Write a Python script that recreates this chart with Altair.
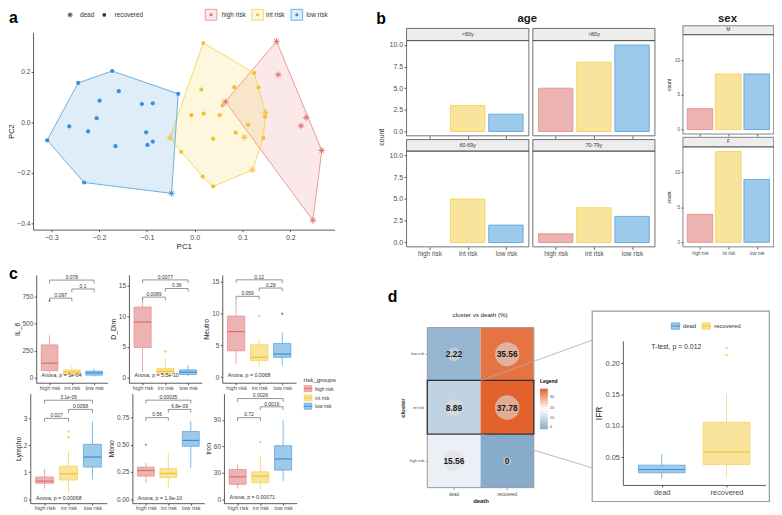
import altair as alt
import pandas as pd

M = 8
W, H = 774, 507
FONT = "Liberation Sans"
BASE = pd.DataFrame({"k": [0]})

RISK = ["high risk", "int risk", "low risk"]
LINE = ["#E8908D", "#F5D554", "#5DA7DF"]
FILL = ["#EBB4B2", "#F8E49C", "#9DC9EB"]
DARK = ["#E26C69", "#F0C22C", "#3A8FD7"]
ASTER = "M-1,0L1,0M0,-1L0,1M-0.7,-0.7L0.7,0.7M-0.7,0.7L0.7,-0.7"

# ---------------- panel a data (PCA) ----------------
LOW_PC1 = [-0.3085, -0.2436, -0.1725, -0.0345, -0.0483, -0.2312, -0.2623, -0.1988, -0.1587,
           -0.1104, -0.0876, -0.2050, -0.2229, -0.1014, -0.1656, -0.0987, -0.0876]
LOW_PC2 = [-0.0706, 0.1569, 0.2039, 0.1137, -0.2810, -0.2379, -0.0157, 0.0863, 0.1242,
           0.0732, 0.0758, 0.0170, -0.0353, -0.0392, -0.0941, -0.0889, -0.0758]
LOW_DEAD = [0, 0, 0, 0, 1, 0, 0, 0, 0, 0, 0, 0, 0, 0, 0, 0, 0]
INT_PC1 = [0.0179, 0.1242, 0.1332, 0.0828, 0.0138, 0.0587, 0.1484, 0.1470, -0.0069, 0.0186,
           0.0524, 0.1118, -0.0518, 0.0386, 0.0856, 0.1035, 0.1435, -0.0283, 0.1208, 0.0166, 0.0386]
INT_PC2 = [0.3150, 0.1961, 0.1386, 0.1399, 0.1307, 0.0680, 0.0392, 0.0235, 0.0288, 0.0353,
           0.0288, -0.0092, -0.0614, -0.0641, -0.0405, -0.0588, -0.0614, -0.1163, -0.1882, -0.2144, -0.2536]
INT_DEAD = [0, 0, 0, 0, 0, 0, 1, 0, 0, 0, 0, 0, 1, 0, 0, 1, 0, 0, 1, 0, 0]
HIGH_PC1 = [0.1712, 0.1746, 0.0642, 0.2333, 0.2222, 0.2657, 0.2471]
HIGH_PC2 = [0.3216, 0.1895, 0.0824, 0.0196, -0.0131, -0.1111, -0.3882]
HIGH_DEAD = [1, 1, 1, 1, 1, 1, 1]

# ---------------- panel b data (counts) ----------------
AGE_FACETS = ["<60y", ">80y", "60-69y", "70-79y"]
AGE_COUNTS = [[0, 3, 2], [5, 8, 10], [0, 5, 2], [1, 4, 3]]
SEX_FACETS = ["M", "F"]
SEX_COUNTS = [[3, 8, 8], [4, 13, 9]]

# ---------------- panel c data (box stats: lo, q1, med, q3, hi) ----------------
C_NAMES = ["IL_6", "D_Dim", "Neutro", "Lympho", "Mono", "Iron"]
C_STATS = [
    [[40, 66, 134, 303, 391], [15, 30, 52, 73, 112], [10, 24, 45, 61, 85]],
    [[0.9, 4.93, 9.06, 11.5, 13.0], [0.27, 0.64, 1.07, 1.5, 3.2], [0.27, 0.53, 0.91, 1.29, 2.09]],
    [[2.07, 4.13, 7.14, 9.57, 12.16], [1.55, 2.58, 3.1, 5.06, 5.95], [1.81, 3.1, 3.62, 5.28, 6.99]],
    [[0.39, 0.59, 0.67, 0.82, 1.12], [0.24, 0.71, 0.94, 1.22, 1.77], [0.73, 1.19, 1.56, 2.03, 2.87]],
    [[0.152, 0.212, 0.263, 0.294, 0.333], [0.097, 0.197, 0.236, 0.281, 0.424], [0.288, 0.485, 0.539, 0.621, 0.72]],
    [[12, 16.9, 25.5, 33.8, 39.4], [11.2, 18.8, 26.3, 31.2, 50], [20.6, 33.1, 45.8, 60.8, 90]],
]
C_OUTLIERS = [
    [("high risk", 709)],
    [("int risk", 4.3)],
    [("int risk", 9.57), ("low risk", 9.94)],
    [("int risk", 2.29), ("int risk", 2.5)],
    [("high risk", 0.50)],
    [("int risk", 64.9)],
]
C_BRACKETS = [
    [(1, 2, 734, "0.097"), (2, 3, 818, "0.1"), (1, 3, 900, "0.078")],
    [(1, 2, 13.1, "0.0089"), (2, 3, 14.5, "0.36"), (1, 3, 15.9, "0.0077")],
    [(1, 2, 12.67, "0.059"), (2, 3, 13.97, "0.29"), (1, 3, 15.26, "0.12")],
    [(1, 2, 2.99, "0.027"), (2, 3, 3.32, "0.0058"), (1, 3, 3.66, "3.1e-05")],
    [(1, 2, 0.748, "0.56"), (2, 3, 0.823, "6.8e-09"), (1, 3, 0.908, "0.00035")],
    [(1, 2, 92.7, "0.72"), (2, 3, 105, "0.0019"), (1, 3, 114.4, "0.0026")],
]
C_ANOVA = ["Anova, p = 1e-04", "Anova, p = 5.5e-10", "Anova, p = 0.0068",
           "Anova, p = 0.00068", "Anova, p = 1.9e-10", "Anova, p = 0.00071"]
C_ANOVA_Y = [30, 0.5, 0.3, 0.06, 0.01, 2.5]
C_TICKS = [[0, 250, 500, 750], [0, 5, 10, 15], [0, 5, 10, 15], [0, 1, 2, 3], [0, 0.25, 0.5, 0.75], [0, 30, 60, 90]]
C_FMT = ["d", "d", "d", "d", ".2f", "d"]

# ---------------- panel d data ----------------
HM_CLUSTER = ["low risk", "int risk", "high risk"]
HM_DEATH = ["dead", "recovered"]
HM_PCT = [[2.22, 35.56], [8.89, 37.78], [15.56, 0]]
D_CATS = ["dead", "recovered"]
D_STATS = [[0.0162, 0.0252, 0.0305, 0.0374, 0.0552], [0.0184, 0.0383, 0.0584, 0.1057, 0.150]]
D_OUTLIERS = [("recovered", 0.2131), ("recovered", 0.2247)]
D_FILL = ["#9DC9EB", "#F8E49C"]
D_LINE = ["#5DA7DF", "#F5D554"]
D_DARK = ["#3A8FD7", "#F0C22C"]


# ---------------- helpers ----------------
def lin(dom, r0, r1):
    return alt.Scale(domain=list(dom), range=[r0 - M, r1 - M], nice=False, zero=False)


def band(dom, r0, r1):
    return alt.Scale(type="band", domain=list(dom), range=[r0 - M, r1 - M], paddingInner=0, paddingOuter=0)


AXB = dict(grid=False, labelFont=FONT, titleFont=FONT, labelColor="#4D4D4D", titleColor="#1A1A1A",
           domainColor="#333333", tickColor="#333333", domainWidth=0.8, tickWidth=0.8,
           tickSize=2.5, labelPadding=1.5, labelFlush=False, labelOverlap=False,
           titleFontWeight="normal", labelAngle=0, titlePadding=3)


def ax(orient, at, values=None, fs=7, title=None, tfs=8, **kw):
    d = dict(AXB)
    d["orient"] = orient
    d["offset"] = -(at - M) if orient == "left" else (at - M) - H
    d["labelFontSize"] = fs
    d["titleFontSize"] = tfs
    d["title"] = title
    if values is not None:
        d["values"] = values
    d.update(kw)
    return alt.Axis(**d)


def cat_expr(cats):
    return "[" + ",".join("'" + c + "'" for c in cats) + "][datum.value - 1]"


def T(txt, x, y, fs=7, weight="normal", align="center", baseline="middle", angle=None, color="#1A1A1A"):
    kw = dict(text=txt, fontSize=fs, fontWeight=weight, align=align, baseline=baseline, color=color, font=FONT)
    if angle is not None:
        kw["angle"] = angle
    return alt.Chart(BASE).mark_text(**kw).encode(x=alt.value(x - M), y=alt.value(y - M))


def R(x0, y0, x1, y1, fill="transparent", stroke=None, sw=0.8, fo=1.0):
    kw = dict(fill=fill, fillOpacity=fo, strokeWidth=sw)
    if stroke:
        kw["stroke"] = stroke
    return alt.Chart(BASE).mark_rect(**kw).encode(
        x=alt.value(x0 - M), x2=alt.value(x1 - M), y=alt.value(y0 - M), y2=alt.value(y1 - M))


def L(x0, y0, x1, y1, color="#AAAAAA", sw=0.8):
    return alt.Chart(BASE).mark_rule(color=color, strokeWidth=sw).encode(
        x=alt.value(x0 - M), x2=alt.value(x1 - M), y=alt.value(y0 - M), y2=alt.value(y1 - M))


def P(x, y, shape="circle", size=16, filled=True, color="#333333", sw=0.9):
    return alt.Chart(BASE).mark_point(shape=shape, size=size, filled=filled, color=color, opacity=1,
                                      strokeWidth=sw).encode(x=alt.value(x - M), y=alt.value(y - M))


def hull(pts):
    pts = sorted(set(pts))

    def cross(o, a, b):
        return (a[0] - o[0]) * (b[1] - o[1]) - (a[1] - o[1]) * (b[0] - o[0])
    lower, upper = [], []
    for p in pts:
        while len(lower) >= 2 and cross(lower[-2], lower[-1], p) <= 0:
            lower.pop()
        lower.append(p)
    for p in reversed(pts):
        while len(upper) >= 2 and cross(upper[-2], upper[-1], p) <= 0:
            upper.pop()
        upper.append(p)
    h = lower[:-1] + upper[:-1]
    return h + [h[0]]


layers = []

# ================= panel a =================
A_X0, A_X1, A_YB, A_YT = 33.3, 338.0, 229.3, 30.0
xa = lin([-0.338, 0.2925], A_X0, A_X1)
ya = lin([-0.4247, 0.357], A_YB, A_YT)
rows = []
for g, p1, p2, dd in [("high risk", HIGH_PC1, HIGH_PC2, HIGH_DEAD), ("int risk", INT_PC1, INT_PC2, INT_DEAD),
                      ("low risk", LOW_PC1, LOW_PC2, LOW_DEAD)]:
    for a_, b_, d_ in zip(p1, p2, dd):
        rows.append(dict(pc1=a_, pc2=b_, grp=g, status="dead" if d_ else "recovered"))
pts = pd.DataFrame(rows)

for gi, g in enumerate(RISK):
    sub = pts[pts.grp == g]
    h = hull(list(zip(sub.pc1, sub.pc2)))
    hd = pd.DataFrame({"pc1": [p[0] for p in h], "pc2": [p[1] for p in h], "i": list(range(len(h)))})
    layers.append(alt.Chart(hd).mark_line(stroke=LINE[gi], fill=LINE[gi], fillOpacity=0.2, strokeWidth=0.9,
                                          strokeJoin="round").encode(
        x=alt.X("pc1:Q", scale=xa, axis=None), y=alt.Y("pc2:Q", scale=ya, axis=None), order="i:Q"))

grp_col = alt.Color("grp:N", scale=alt.Scale(domain=RISK, range=DARK), legend=None)
layers.append(alt.Chart(pts[pts.status == "recovered"]).mark_circle(size=18, opacity=1).encode(
    x=alt.X("pc1:Q", scale=xa, axis=ax("bottom", A_YB, [-0.3, -0.2, -0.1, 0, 0.1, 0.2], fs=7.2,
                                       title="PC1", tfs=8, format=".1f", tickSize=2, titlePadding=2)),
    y=alt.Y("pc2:Q", scale=ya, axis=ax("left", A_X0, [-0.4, -0.2, 0, 0.2], fs=6.8, title="PC2",
                                       tfs=7.5, format=".1f", tickSize=2, labelPadding=1, titlePadding=1)),
    color=grp_col))
layers.append(alt.Chart(pts[pts.status == "dead"]).mark_point(shape=ASTER, size=42, filled=False, opacity=1,
                                                               strokeWidth=0.9).encode(
    x=alt.X("pc1:Q", scale=xa, axis=None), y=alt.Y("pc2:Q", scale=ya, axis=None), color=grp_col))

# legends of a
layers.append(P(70.7, 12.3, shape=ASTER, size=30, filled=False, color="#333333", sw=0.8))
layers.append(T("dead", 80.7, 12.3, fs=6.5, align="left", color="#333333"))
layers.append(P(105.3, 12.3, shape="circle", size=14, filled=True, color="#333333"))
layers.append(T("recovered", 115.7, 12.3, fs=6.5, align="left", color="#333333"))
for i, (bx, tx) in enumerate([(207.3, 224.0), (254.3, 268.7), (294.0, 309.3)]):
    layers.append(R(bx, 6.7, bx + 11.7, 17.7, fill=LINE[i], fo=0.2, stroke=LINE[i], sw=0.9))
    layers.append(P(bx + 5.85, 12.2, shape="circle", size=10, filled=True, color=DARK[i]))
    layers.append(T(RISK[i], tx, 12.3, fs=6.5, align="left", color="#333333"))

# ================= panel b =================
RISK_EXPR = cat_expr(RISK)


def bar_panel(counts, x0, x1, yb, yt, ydom, xaxis, yaxis):
    df = pd.DataFrame({"grp": RISK, "pos": [1, 2, 3], "n": counts})
    df = df[df.n > 0]
    return alt.Chart(df).transform_calculate(a="datum.pos - 0.45", b="datum.pos + 0.45").mark_bar(
        strokeWidth=0.9).encode(
        x=alt.X("a:Q", scale=lin([0.4, 3.6], x0, x1), axis=xaxis),
        x2="b:Q",
        y=alt.Y("n:Q", scale=lin(ydom, yb, yt), axis=yaxis),
        y2=alt.datum(0),
        fill=alt.Fill("grp:N", scale=alt.Scale(domain=RISK, range=FILL), legend=None),
        stroke=alt.Stroke("grp:N", scale=alt.Scale(domain=RISK, range=LINE), legend=None))


AGE_LAYOUT = [(410.7, 534.3, 26.0, 38.3, 134.5), (538.3, 661.7, 26.0, 38.3, 134.5),
              (410.7, 534.3, 138.3, 150.0, 246.7), (538.3, 661.7, 138.3, 150.0, 246.7)]
for k, (x0, x1, st, pt, pb) in enumerate(AGE_LAYOUT):
    layers.append(R(x0, st, x1, pt, fill="#EDEDED", stroke="#4D4D4D", sw=0.8))
    layers.append(T(AGE_FACETS[k], (x0 + x1) / 2, (st + pt) / 2, fs=5.5, color="#333333"))
    bottom = k >= 2
    xaxis = ax("bottom", pb, [1, 2, 3], fs=6.5, labelExpr=RISK_EXPR, domain=False, labels=bottom)
    yaxis = ax("left", x0, [0, 2.5, 5, 7.5, 10], fs=7, format=".1f", domain=False) if k in (0, 2) else None
    layers.append(bar_panel(AGE_COUNTS[k], x0, x1, pb, pt, [-0.5, 10.5], xaxis, yaxis))
    layers.append(R(x0, pt, x1, pb, stroke="#4D4D4D", sw=0.8))
layers.append(T("count", 386.0, 136.0, fs=7, angle=270, color="#1A1A1A"))
layers.append(T("age", 532.7, 19.0, fs=11.5, weight="bold", baseline="alphabetic"))

SEX_LAYOUT = [(690.0, 781.7, 23.3, 32.3, 132.7), (690.0, 781.7, 136.0, 145.7, 246.7)]
for k, (x0, x1, st, pt, pb) in enumerate(SEX_LAYOUT):
    layers.append(R(x0, st, x1, pt, fill="#EDEDED", stroke="#4D4D4D", sw=0.7))
    layers.append(T(SEX_FACETS[k], (x0 + x1) / 2, (st + pt) / 2, fs=4.5, color="#333333"))
    xaxis = ax("bottom", pb, [1, 2, 3], fs=4.5, labelExpr=RISK_EXPR, domain=False, labels=(k == 1),
               tickSize=2)
    yaxis = ax("left", x0, [0, 5, 10], fs=4.5, title="count", tfs=5, domain=False, tickSize=2)
    layers.append(bar_panel(SEX_COUNTS[k], x0, x1, pb, pt, [-0.65, 13.65], xaxis, yaxis))
    layers.append(R(x0, pt, x1, pb, stroke="#4D4D4D", sw=0.7))
layers.append(T("sex", 735.0, 19.0, fs=11.5, weight="bold", baseline="alphabetic"))

# ================= panel c =================
C_LAYOUT = [(36.5, 108.5, 384.0, 275.0, -45.6, 948.0),
            (130.2, 203.8, 384.0, 275.0, -0.80, 16.72),
            (224.5, 299.1, 384.0, 275.0, -0.885, 16.04),
            (30.5, 107.8, 505.7, 395.0, -0.146, 3.904),
            (133.7, 206.3, 505.7, 395.0, -0.0363, 0.968),
            (226.2, 299.8, 505.7, 395.0, -4.5, 120.0)]


def box_layers(cats, stats, outs, xs_, ys_, xaxis, yaxis, fills, lines, darks, half=0.375):
    df = pd.DataFrame({"grp": cats, "pos": list(range(1, len(cats) + 1)),
                       "lo": [s[0] for s in stats], "q1": [s[1] for s in stats], "med": [s[2] for s in stats],
                       "q3": [s[3] for s in stats], "hi": [s[4] for s in stats]})
    sF = alt.Fill("grp:N", scale=alt.Scale(domain=cats, range=fills), legend=None)
    sS = alt.Stroke("grp:N", scale=alt.Scale(domain=cats, range=lines), legend=None)
    sD = alt.Stroke("grp:N", scale=alt.Scale(domain=cats, range=darks), legend=None)
    base = alt.Chart(df).transform_calculate(a="datum.pos - %s" % half, b="datum.pos + %s" % half)
    out = [
        base.mark_rule(strokeWidth=0.8).encode(x=alt.X("pos:Q", scale=xs_, axis=None),
                                               y=alt.Y("lo:Q", scale=ys_, axis=None), y2="q1:Q", stroke=sS),
        base.mark_rule(strokeWidth=0.8).encode(x=alt.X("pos:Q", scale=xs_, axis=None),
                                               y=alt.Y("q3:Q", scale=ys_, axis=None), y2="hi:Q", stroke=sS),
        base.mark_bar(strokeWidth=0.8).encode(x=alt.X("a:Q", scale=xs_, axis=xaxis), x2="b:Q",
                                              y=alt.Y("q1:Q", scale=ys_, axis=yaxis), y2="q3:Q",
                                              fill=sF, stroke=sS),
        base.mark_rule(strokeWidth=1.2).encode(x=alt.X("a:Q", scale=xs_, axis=None), x2="b:Q",
                                               y=alt.Y("med:Q", scale=ys_, axis=None), stroke=sD),
    ]
    if outs:
        od = pd.DataFrame({"grp": [o[0] for o in outs], "v": [o[1] for o in outs],
                           "pos": [cats.index(o[0]) + 1 for o in outs]})
        out.append(alt.Chart(od).mark_circle(size=6, opacity=1).encode(
            x=alt.X("pos:Q", scale=xs_, axis=None), y=alt.Y("v:Q", scale=ys_, axis=None),
            color=alt.Color("grp:N", scale=alt.Scale(domain=cats, range=lines), legend=None)))
    return out


for k in range(6):
    x0, x1, yb, yt, ymin, ymax = C_LAYOUT[k]
    xs_ = lin([0.4, 3.6], x0, x1)
    ys_ = lin([ymin, ymax], yb, yt)
    xaxis = ax("bottom", yb, [1, 2, 3], fs=5.6, labelExpr=RISK_EXPR, labelPadding=0.8, tickSize=2)
    yaxis = ax("left", x0, C_TICKS[k], fs=6.5, title=C_NAMES[k], tfs=7, format=C_FMT[k], tickSize=2,
               titlePadding=2)
    layers += box_layers(RISK, C_STATS[k], C_OUTLIERS[k], xs_, ys_, xaxis, yaxis, FILL, LINE, DARK)
    tip = 0.03 * (ymax - ymin)
    bk = pd.DataFrame({"a": [b[0] for b in C_BRACKETS[k]], "b": [b[1] for b in C_BRACKETS[k]],
                       "y": [b[2] for b in C_BRACKETS[k]], "lab": [b[3] for b in C_BRACKETS[k]]})
    bk["yt"] = bk["y"] - tip
    bb = alt.Chart(bk)
    layers.append(bb.mark_rule(color="#666666", strokeWidth=0.7).encode(
        x=alt.X("a:Q", scale=xs_, axis=None), x2="b:Q", y=alt.Y("y:Q", scale=ys_, axis=None)))
    layers.append(bb.mark_rule(color="#666666", strokeWidth=0.7).encode(
        x=alt.X("a:Q", scale=xs_, axis=None), y=alt.Y("y:Q", scale=ys_, axis=None), y2="yt:Q"))
    layers.append(bb.mark_rule(color="#666666", strokeWidth=0.7).encode(
        x=alt.X("b:Q", scale=xs_, axis=None), y=alt.Y("y:Q", scale=ys_, axis=None), y2="yt:Q"))
    layers.append(bb.transform_calculate(m="(datum.a + datum.b) / 2").mark_text(
        dy=-3.2, fontSize=5, font=FONT, color="#333333").encode(
        x=alt.X("m:Q", scale=xs_, axis=None), y=alt.Y("y:Q", scale=ys_, axis=None), text="lab:N"))
    an = pd.DataFrame({"x": [0.64], "y": [C_ANOVA_Y[k]], "t": [C_ANOVA[k]]})
    layers.append(alt.Chart(an).mark_text(align="left", baseline="middle", fontSize=5.3, font=FONT,
                                          color="#333333").encode(
        x=alt.X("x:Q", scale=xs_, axis=None), y=alt.Y("y:Q", scale=ys_, axis=None), text="t:N"))

layers.append(T("risk_groups", 306.7, 381.0, fs=6.3, align="left", color="#333333"))
for i, cy in enumerate([390.0, 399.3, 407.7]):
    layers.append(R(307.3, cy - 3.0, 315.0, cy + 3.0, fill=FILL[i], stroke=LINE[i], sw=0.8))
    layers.append(L(307.3, cy, 315.0, cy, color=DARK[i], sw=1.0))
    layers.append(T(RISK[i], 318.3, cy, fs=5, align="left", color="#333333"))

# ================= panel d: heatmap =================
hm = pd.DataFrame([dict(cluster=c, death=d, pct=HM_PCT[i][j], lab="%g" % HM_PCT[i][j])
                   for i, c in enumerate(HM_CLUSTER) for j, d in enumerate(HM_DEATH)])
xh = band(HM_DEATH, 431.7, 539.3)
yh = band(HM_CLUSTER, 328.3, 490.0)
layers.append(alt.Chart(hm).mark_rect().encode(
    x=alt.X("death:N", scale=xh, axis=ax("bottom", 490.0, fs=4.5, title="death", tfs=6, domain=False,
                                         titleFontWeight="bold", tickSize=2, titlePadding=2,
                                         tickColor="#888888")),
    y=alt.Y("cluster:N", scale=yh, axis=ax("left", 431.7, fs=4, title="cluster", tfs=6, domain=False,
                                           titleFontWeight="bold", tickSize=2, titlePadding=4,
                                           tickColor="#888888")),
    color=alt.Color("pct:Q", scale=alt.Scale(domain=[0, 18.89, 37.78], range=["#87ABCB", "#FFFFFF", "#E3612A"],
                                             interpolate="rgb"),
                    legend=alt.Legend(orient="none", legendX=545.5 - M, legendY=380.0 - M, title="Legend",
                                      titleFont=FONT, titleFontSize=5, titleFontWeight="bold",
                                      labelFont=FONT, labelFontSize=4, labelColor="#4D4D4D",
                                      gradientLength=41, gradientThickness=8, values=[0, 10, 20, 30],
                                      direction="vertical", titlePadding=5, labelOffset=2))))
layers.append(alt.Chart(hm).mark_circle(color="#DDDDDD", opacity=0.6).encode(
    x=alt.X("death:N", scale=xh, axis=None), y=alt.Y("cluster:N", scale=yh, axis=None),
    size=alt.Size("pct:Q", scale=alt.Scale(type="sqrt", domain=[0, 37.78], range=[60, 616]), legend=None)))
layers.append(alt.Chart(hm).mark_text(fontSize=8.5, fontWeight="bold", font=FONT, color="#1A1A1A").encode(
    x=alt.X("death:N", scale=xh, axis=None), y=alt.Y("cluster:N", scale=yh, axis=None), text="lab:N"))
layers.append(R(431.7, 328.3, 539.3, 490.0, stroke="#999999", sw=1.0))
layers.append(R(431.7, 381.7, 539.3, 436.0, stroke="#333333", sw=1.3))
layers.append(T("cluster vs death (%)", 485.0, 315.7, fs=6.3, color="#1A1A1A"))
layers.append(L(486.0, 381.7, 598.3, 341.0))
layers.append(L(486.0, 436.0, 598.3, 470.0))

# ================= panel d: zoom box =================
layers.append(R(598.3, 311.7, 777.3, 504.0, stroke="#999999", sw=1.2))
xd = lin([0.4, 2.6], 629.3, 773.3)
yd = lin([0.0058, 0.2357], 487.3, 341.7)
layers += box_layers(D_CATS, D_STATS, D_OUTLIERS, xd, yd,
                     ax("bottom", 487.3, [1, 2], fs=7.5, labelExpr=cat_expr(D_CATS), tickSize=2),
                     ax("left", 629.3, [0.05, 0.10, 0.15, 0.20], fs=7.5, title="IFR", tfs=8.5, format=".2f",
                        tickSize=2, titlePadding=2),
                     D_FILL, D_LINE, D_DARK, half=0.36)
layers.append(T("T-test, p = 0.012", 683.3, 347.7, fs=7, color="#333333"))
for i, (bx, tx) in enumerate([(678.3, 690.0), (709.3, 721.7)]):
    layers.append(R(bx, 323.5, bx + 8.4, 330.0, fill=D_FILL[i], stroke=D_LINE[i], sw=0.8))
    layers.append(L(bx, 326.7, bx + 8.4, 326.7, color=D_DARK[i], sw=1.0))
    layers.append(T(D_CATS[i], tx, 326.7, fs=6, align="left", color="#333333"))

# ================= panel letters =================
layers.append(T("a", 9.0, 21.0, fs=16, weight="bold", align="left", baseline="alphabetic", color="black"))
layers.append(T("b", 380.0, 21.5, fs=16, weight="bold", align="left", baseline="alphabetic", color="black"))
layers.append(T("c", 9.0, 279.0, fs=16, weight="bold", align="left", baseline="alphabetic", color="black"))
layers.append(T("d", 391.7, 302.0, fs=16, weight="bold", align="left", baseline="alphabetic", color="black"))

chart = alt.layer(*layers).resolve_scale(
    x="independent", y="independent", color="independent", fill="independent", stroke="independent",
    size="independent").resolve_axis(x="independent", y="independent").resolve_legend(
    color="independent", fill="independent", stroke="independent", size="independent").properties(
    width=W, height=H, padding=0, autosize=alt.AutoSizeParams(type="none"), background="white"
).configure_view(stroke=None)

chart.save("out.html", embed_options={"renderer": "svg", "actions": False})
